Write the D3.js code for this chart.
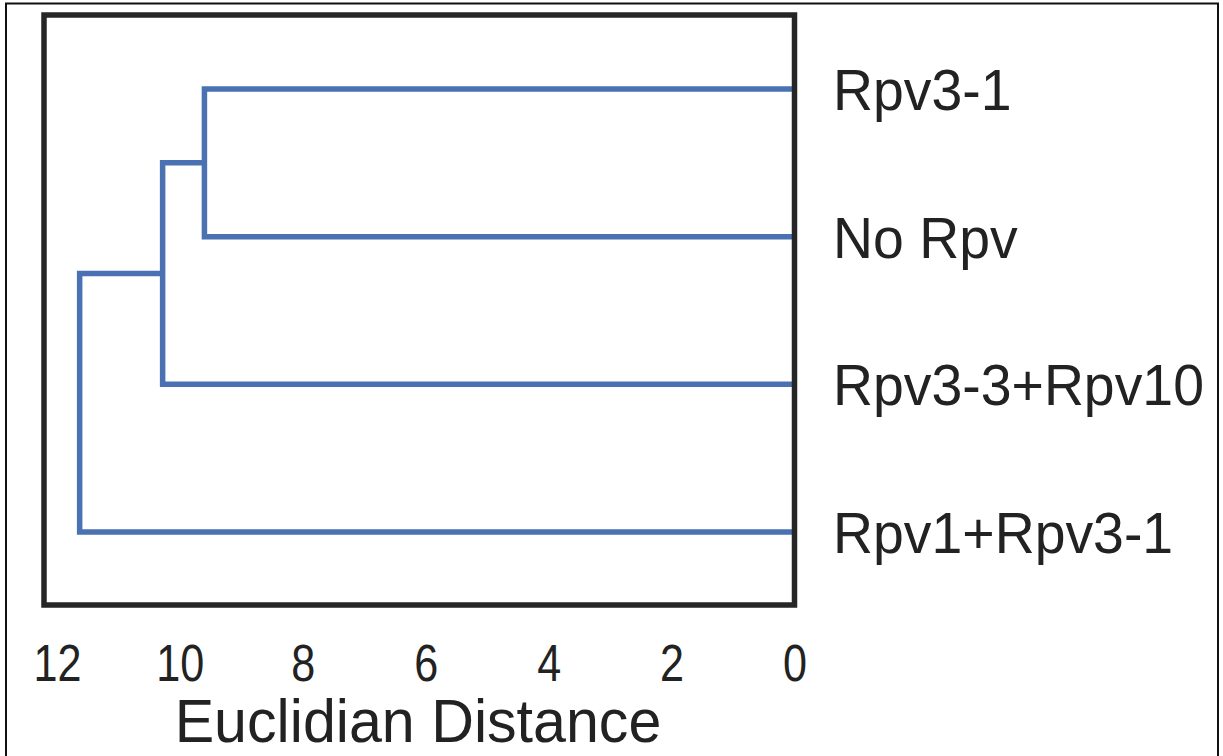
<!DOCTYPE html>
<html>
<head>
<meta charset="utf-8">
<script src="https://cdn.jsdelivr.net/npm/d3@7"></script>
<style>
  html, body { margin: 0; padding: 0; background: #fff; }
  svg { display: block; }
  text { font-family: "Liberation Sans", Arial, sans-serif; fill: #222; }
</style>
</head>
<body>
<svg id="chart" width="1223" height="756"></svg>
<script>
// Leaves of the dendrogram, top to bottom
const leafNames = ["Rpv3-1", "No Rpv", "Rpv3-3+Rpv10", "Rpv1+Rpv3-1"];
// Linkage: ids 0..3 are leaves, each merge creates a new id 4, 5, 6
const mergeLeft = [0, 4, 5];
const mergeRight = [1, 2, 3];
const mergeHeight = [9.6, 10.28, 11.63];
// Axis ticks
const tickValues = [12, 10, 8, 6, 4, 2, 0];
const axisTitle = "Euclidian Distance";

const svg = d3.select("#chart");
const W = 1223, H = 756;

const box = { left: 44, right: 794.5, top: 15, bottom: 605 };
const x = d3.scaleLinear().domain([0, 12.21]).range([box.right, box.left]);
const y = d3.scalePoint().domain(leafNames).range([89, 532]);

// outer frame (open at the bottom)
svg.append("path")
  .attr("d", `M6,${H + 5} V3.5 H1218 V${H + 5}`)
  .attr("fill", "none").attr("stroke", "#111").attr("stroke-width", 2);

// node positions: [height, y]
const nodes = leafNames.map(n => ({ h: 0, y: y(n) }));
mergeLeft.forEach((l, i) => {
  const a = nodes[l], b = nodes[mergeRight[i]];
  const h = mergeHeight[i];
  svg.append("path")
    .attr("d", `M${x(a.h)},${a.y} H${x(h)} V${b.y} H${x(b.h)}`)
    .attr("fill", "none")
    .attr("stroke", "#4a71b1")
    .attr("stroke-width", 5.5)
    .attr("stroke-linejoin", "miter");
  nodes.push({ h: h, y: (a.y + b.y) / 2 });
});

// plot box
svg.append("rect")
  .attr("x", box.left).attr("y", box.top)
  .attr("width", box.right - box.left).attr("height", box.bottom - box.top)
  .attr("fill", "none").attr("stroke", "#262626").attr("stroke-width", 5.5);

// leaf labels
svg.selectAll("text.leaf").data(leafNames).enter().append("text")
  .attr("class", "leaf")
  .attr("transform", d => `translate(833,${y(d) + 21}) scale(0.955,1)`)
  .attr("font-size", 58)
  .text(d => d);

// x axis tick labels
const axis = d3.axisBottom(x).tickValues(tickValues).tickSize(0).tickPadding(0).tickFormat(d3.format("d"));
const gAxis = svg.append("g").attr("transform", "translate(0,681)").call(axis);
gAxis.select(".domain").remove();
gAxis.selectAll(".tick").each(function () {
  const t = d3.select(this).attr("transform");
  const tx = +t.match(/translate\(([-\d.]+)/)[1];
  d3.select(this).attr("transform", `translate(${tx},0)`);
});
gAxis.selectAll("text")
  .attr("y", 0).attr("dy", 0)
  .attr("fill", "#222")
  .attr("font-size", 52)
  .attr("font-family", "Liberation Sans, Arial, sans-serif")
  .attr("transform", "scale(0.83,1)");

// axis title
svg.append("text")
  .attr("transform", "translate(418,742) scale(0.97,1)")
  .attr("text-anchor", "middle")
  .attr("font-size", 61)
  .text(axisTitle);
</script>
</body>
</html>
